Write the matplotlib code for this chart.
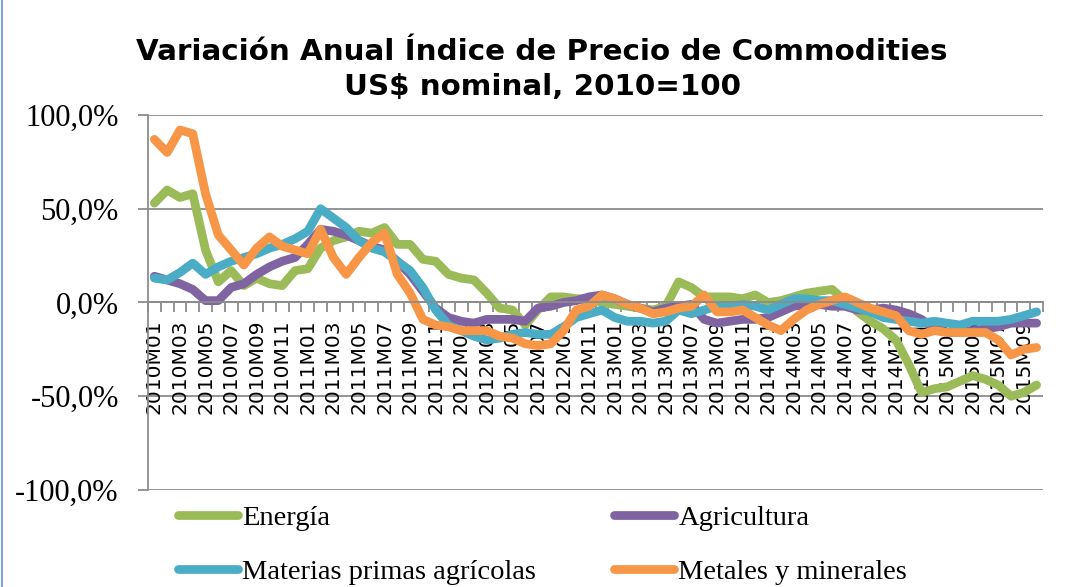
import matplotlib
matplotlib.use("Agg")
import matplotlib.pyplot as plt
import matplotlib.lines as mlines
import numpy as np

# months 2010M01 .. 2015M10
months = [f"{y}M{m:02d}" for y in range(2010, 2016) for m in range(1, 13)][:70]

energia = [53, 60, 56, 58, 28, 11, 17, 9, 13, 10, 9, 17,
           18, 29, 33, 35, 38, 37, 40, 31, 31, 23, 22,
           15, 13, 12, 5, -3, -4, -12, -4, 3, 3, 2,
           2, 0, -1, -2, -3, -4, -2, 11, 8, 3, 3,
           3, 2, 4, 0, 1, 3, 5, 6, 7, 1, -5,
           -10, -14, -20, -33, -48, -46, -45, -42, -39, -41, -44, -50, -48, -44]
agricultura = [14, 12, 10, 7, 1, 1, 8, 10, 15, 19, 22, 24,
               31, 39, 38, 36, 33, 30, 28, 22, 15, 6, -3,
               -8, -10, -11, -9, -9, -9, -10, -3, -2, 0, 1,
               3, 4, 2, -1, -3, -5, -3, -2, -1, -9, -11,
               -10, -9, -9, -8, -5, -2, -1, -1, -2, -2, -4,
               -4, -3, -4, -6, -9, -14, -16, -16, -15, -14, -13, -11, -11, -11]
materias = [13, 12, 16, 21, 15, 19, 22, 24, 26, 29, 31, 34,
            38, 50, 45, 40, 33, 29, 27, 22, 17, 8, -4,
            -12, -15, -18, -20, -19, -17, -16, -17, -17, -13, -8,
            -6, -4, -8, -10, -10, -11, -10, -4, -6, -4, -2,
            -2, -1, -2, -4, -1, 2, 2, 1, 1, -1, -3,
            -5, -8, -9, -10, -11, -10, -11, -12, -10, -10, -10, -9, -7, -5]
metales = [87, 80, 92, 90, 58, 36, 28, 20, 29, 35, 30, 28,
           26, 39, 24, 15, 24, 32, 37, 15, 5, -9, -12,
           -13, -15, -15, -15, -18, -19, -22, -23, -22, -15, -4,
           -2, 4, 2, -1, -3, -6, -5, -3, -2, 4, -5,
           -5, -4, -8, -12, -15, -9, -4, -1, 1, 3, 0,
           -3, -5, -7, -15, -17, -15, -16, -16, -16, -16, -20, -28, -25, -24]

series = [("Energía", energia, "#9BBB59"),
          ("Agricultura", agricultura, "#8064A2"),
          ("Materias primas agrícolas", materias, "#4BACC6"),
          ("Metales y minerales", metales, "#F79646")]

yticks = [100, 50, 0, -50, -100]
ytick_labels = ["100,0%", "50,0%", "0,0%", "-50,0%", "-100,0%"]

fig = plt.figure(figsize=(10.67, 5.87), dpi=100)
ax = fig.add_axes([148 / 1067, 1 - 490 / 587, (1043 - 148) / 1067, (490 - 115) / 587])

x = np.arange(len(months))
lines = []
for name, vals, color in series:
    ln, = ax.plot(x, vals, color=color, lw=6.3, label=name,
                  solid_joinstyle="round", solid_capstyle="round", zorder=2)
    lines.append(ln)

grid_col = "#8c8c8c"
for v in yticks:
    ax.axhline(v, color=grid_col, lw=1.3, zorder=1)

ax.set_xlim(-0.5, len(months) - 0.5)
ax.set_ylim(-100, 100)
ax.set_yticks(yticks)
ax.set_yticklabels(ytick_labels, family="Liberation Serif", fontsize=22)
ax.tick_params(axis="y", length=7, color=grid_col, width=1.3, pad=14)

for s in ["top", "right"]:
    ax.spines[s].set_visible(False)
ax.spines["left"].set_color(grid_col)
ax.spines["left"].set_linewidth(1.3)
ax.spines["bottom"].set_position(("data", 0))
ax.spines["bottom"].set_color(grid_col)
ax.spines["bottom"].set_linewidth(1.3)

ax.set_xticks(x[::2])
ax.set_xticklabels(months[::2], rotation=90, fontsize=14.5, family="DejaVu Sans")
ax.set_xticks(np.arange(-0.5, len(months), 1), minor=True)
ax.tick_params(axis="x", which="major", length=0, pad=12)
ax.tick_params(axis="x", which="minor", length=7, color=grid_col, width=1.3)

fig.text(0.508, 1 - 52 / 587, "Variación Anual Índice de Precio de Commodities",
         ha="center", va="center", fontsize=21.2, fontweight="bold", family="DejaVu Sans")
fig.text(0.508, 1 - 87 / 587, "US$ nominal, 2010=100",
         ha="center", va="center", fontsize=21.2, fontweight="bold", family="DejaVu Sans")

# legend filled column by column: reorder so rows read Energía/Agricultura, Materias/Metales
leg_handles = [lines[0], lines[2], lines[1], lines[3]]
fig.legend(handles=leg_handles, ncol=2, loc="upper left", bbox_to_anchor=(178 / 1067, 1 - 505 / 587),
           frameon=False, prop={"family": "Liberation Serif", "size": 20.5},
           handlelength=2.1, handletextpad=0.15, columnspacing=2.75, labelspacing=1.0,
           borderaxespad=0, borderpad=0)

fig.add_artist(mlines.Line2D([0.002, 0.002], [0, 1], transform=fig.transFigure,
                             color="#7FA6D6", lw=1.5))

fig.savefig("out.png", dpi=100)
